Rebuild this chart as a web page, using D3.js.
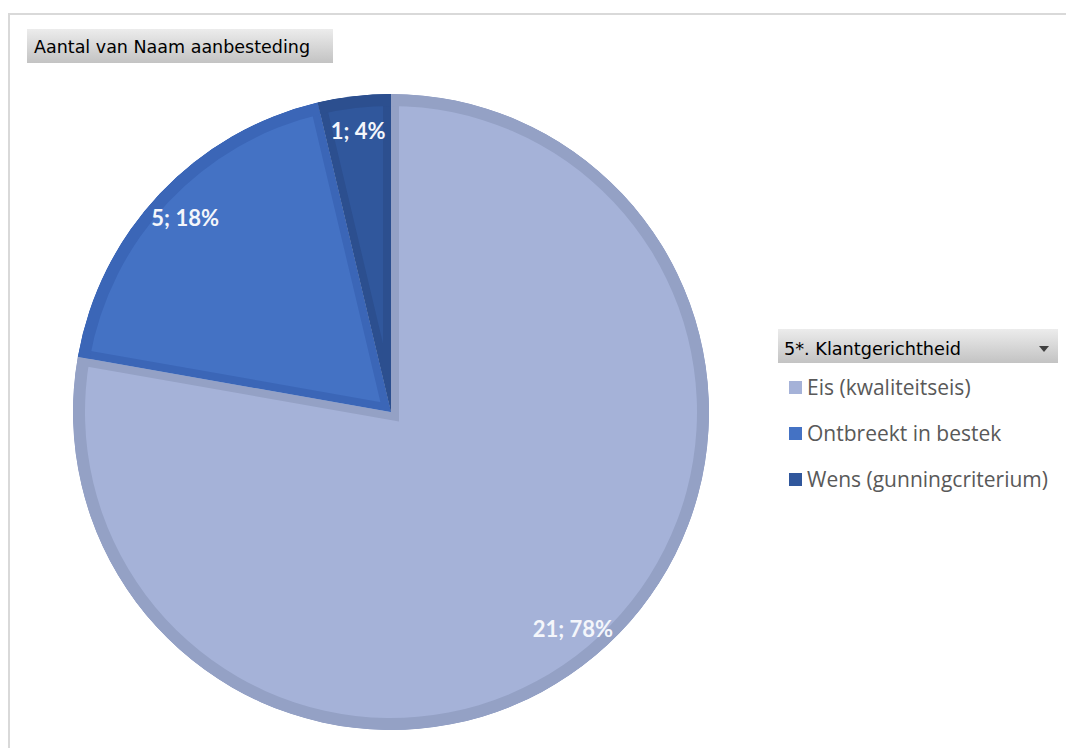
<!DOCTYPE html>
<html>
<head>
<meta charset="utf-8">
<script src="https://cdn.jsdelivr.net/npm/d3@7"></script>
<style>
  html, body { margin: 0; padding: 0; background: #fff; }
  svg { display: block; }
</style>
</head>
<body>
<svg id="chart" width="1066" height="748"></svg>
<script>
// Pivot pie: count of tenders per customer-focus category
const categories = ["Eis (kwaliteitseis)", "Ontbreekt in bestek", "Wens (gunningcriterium)"];
const counts = [21, 5, 1];
const percentLabels = [78, 18, 4];
const fillColors = ["#a5b2d8", "#4472c4", "#30579c"];
const edgeColors = ["#94a1c5", "#3b66b7", "#2c4f8f"];
const fieldTitle = "Aantal van Naam aanbesteding";
const legendTitle = "5*. Klantgerichtheid";

const svg = d3.select("#chart");
const W = 1066, H = 748;

const defs = svg.append("defs");
const grad = defs.append("linearGradient")
  .attr("id", "btnGrad").attr("x1", 0).attr("y1", 0).attr("x2", 0).attr("y2", 1);
grad.append("stop").attr("offset", "0%").attr("stop-color", "#ececec");
grad.append("stop").attr("offset", "100%").attr("stop-color", "#c3c3c3");

// chart area frame
svg.append("path")
  .attr("d", `M9,${H} L9,14 L${W},14`)
  .attr("fill", "none")
  .attr("stroke", "#d9d9d9")
  .attr("stroke-width", 2);

// value field button
svg.append("rect")
  .attr("x", 27).attr("y", 29).attr("width", 306).attr("height", 34)
  .attr("fill", "url(#btnGrad)");
svg.append("text")
  .attr("x", 34).attr("y", 53)
  .attr("font-family", "'DejaVu Sans', sans-serif")
  .attr("font-size", 17.5)
  .attr("textLength", 276)
  .attr("lengthAdjust", "spacingAndGlyphs")
  .attr("fill", "#000")
  .text(fieldTitle);

// pie
const cx = 391, cy = 412, R = 318;
const edgeW = 8, rimW = 12;
const pie = d3.pie().sort(null).value(d => d)(counts);
const arc = d3.arc().innerRadius(0).outerRadius(R);
const rim = d3.arc().innerRadius(R - rimW).outerRadius(R);
const labelArc = d3.arc().innerRadius(283).outerRadius(283);

const g = svg.append("g").attr("transform", `translate(${cx},${cy})`);

pie.forEach((p, i) => {
  const id = "slice" + i;
  defs.append("clipPath").attr("id", id)
    .append("path")
    .attr("d", arc(p));
  const s = g.append("g").attr("clip-path", `url(#${id})`);
  s.append("path")
    .attr("d", arc(p))
    .attr("fill", fillColors[i])
    .attr("stroke", edgeColors[i])
    .attr("stroke-width", edgeW * 2)
    .attr("stroke-linejoin", "miter");
  s.append("path")
    .attr("d", rim(p))
    .attr("fill", edgeColors[i]);
});

pie.forEach((p, i) => {
  const [lx, ly] = labelArc.centroid(p);
  g.append("text")
    .attr("x", lx).attr("y", ly)
    .attr("text-anchor", "middle")
    .attr("dominant-baseline", "central")
    .attr("font-family", "Lato, 'Open Sans', sans-serif")
    .attr("font-weight", "bold")
    .attr("font-size", 22)
    .attr("fill", "#f4f6fb")
    .text(`${counts[i]}; ${percentLabels[i]}%`);
});

// legend header button
svg.append("rect")
  .attr("x", 778).attr("y", 329).attr("width", 280).attr("height", 34)
  .attr("fill", "url(#btnGrad)");
svg.append("text")
  .attr("x", 784).attr("y", 355)
  .attr("font-family", "'DejaVu Sans', sans-serif")
  .attr("font-size", 17.5)
  .attr("textLength", 177)
  .attr("lengthAdjust", "spacingAndGlyphs")
  .attr("fill", "#000")
  .text(legendTitle);
svg.append("path")
  .attr("d", "M1039,346 L1049,346 L1044,352 Z")
  .attr("fill", "#404040");

// legend entries
const legendY = d3.scalePoint().domain(categories).range([387, 479]);
const items = svg.append("g");
categories.forEach((c, i) => {
  const y = legendY(c);
  items.append("rect")
    .attr("x", 789).attr("y", y - 6).attr("width", 13).attr("height", 13)
    .attr("fill", fillColors[i]);
  items.append("text")
    .attr("x", 807).attr("y", y)
    .attr("dominant-baseline", "central")
    .attr("font-family", "'Open Sans', sans-serif")
    .attr("font-size", 21)
    .attr("fill", "#595959")
    .text(c);
});
</script>
</body>
</html>
